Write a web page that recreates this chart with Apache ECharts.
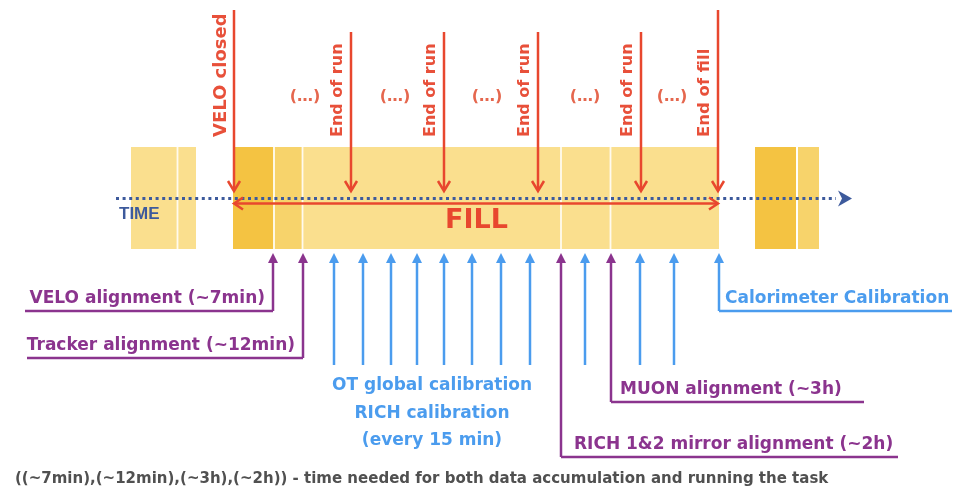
<!DOCTYPE html>
<html><head><meta charset="utf-8">
<script src="https://cdn.jsdelivr.net/npm/echarts@6/dist/echarts.min.js"></script>
<style>html,body{margin:0;padding:0;background:#fff}#c{width:954px;height:491px}</style>
</head><body><div id="c"></div>
<script>
// ---------------- data (diagram time/level units on a 0–954 × 0–491 plane) ----------------
const timelineRange = [116, 852];
const fillRange = [233, 719];
// [start, end, shadeIndex] 0 = dark, 1 = medium, 2 = light
const blockSegments = [
  [131, 196, 2],
  [233, 719, 2],
  [233, 273, 0],
  [275, 302, 1],
  [755, 796, 0],
  [798, 819, 1]
];
const blockDividers = [177.5, 274, 302.5, 561, 610.5];
const runEvents = ['VELO closed', 'End of run', 'End of run', 'End of run', 'End of run', 'End of fill'];
const runEventTimes = [234, 351, 444, 538, 641, 718];
const runEventStarts = [10, 32, 32, 32, 32, 10];
const gapLabel = '(…)';
const gapTimes = [305, 395, 487, 585, 672];
const calibTimes = [334, 363, 391, 417, 444, 472, 501, 530, 585, 640, 674];
const calibLabelLines = ['OT global calibration', 'RICH calibration', '(every 15 min)'];
const alignTasks = ['VELO alignment (~7min)', 'Tracker alignment (~12min)', 'RICH 1&2 mirror alignment (~2h)', 'MUON alignment (~3h)'];
const alignTimes = [273, 303, 561, 611];
const alignLevels = [311, 358, 457, 402];
const alignLineEnds = [25, 27, 898, 864];
const caloTask = 'Calorimeter Calibration';
const caloTime = 719;
const caloLevel = 311;
const caloLineEnd = 952;
const timeLabel = 'TIME';
const fillLabel = 'FILL';
const footnote = '((~7min),(~12min),(~3h),(~2h)) - time needed for both data accumulation and running the task';

// ---------------- style ----------------
const RED = '#E8472E', RED_T = '#E8503A', RED_GAP = '#E5674E', PURPLE = '#8B348E', BLUE = '#4B9CEE', NAVY = '#3D5A9C';
const SHADES = ['#F4C342', '#F7D36B', '#FADF8E'];
const FONT = '"DejaVu Sans", sans-serif';
const EVENT_FONT_SIZES = [18, 16, 16, 16, 16, 16.5];
const BLOCK_TOP = 147, BLOCK_BOTTOM = 249, TIME_Y = 198.5, FILL_Y = 203.5, EVENT_TIP = 191;
const TASK_TIP = 253, CALIB_BOTTOM = 365;

function txt(x, y, text, font, fill, align, valign, rot) {
  return {type: 'text', x: x, y: y, rotation: rot || 0,
    style: {text: text, font: font, fill: fill, textAlign: align, textVerticalAlign: valign, align: align, verticalAlign: valign}};
}
function upArrow(api, t, bottomLevel, color) {
  const tip = api.coord([t, TASK_TIP]);
  const bot = api.coord([t, bottomLevel]);
  return [
    {type: 'line', shape: {x1: bot[0], y1: bot[1], x2: tip[0], y2: tip[1] + 8}, style: {stroke: color, lineWidth: 2.5}},
    {type: 'polygon', shape: {points: [[tip[0], tip[1]], [tip[0] - 5, tip[1] + 10], [tip[0] + 5, tip[1] + 10]]}, style: {fill: color}}
  ];
}

const chart = echarts.init(document.getElementById('c'));
chart.setOption({
  animation: false,
  grid: {left: 0, right: 0, top: 0, bottom: 0},
  xAxis: {type: 'value', min: 0, max: 954, show: false},
  yAxis: {type: 'value', min: 0, max: 491, inverse: true, show: false},
  series: [
    { // blocks
      type: 'custom', coordinateSystem: 'cartesian2d', silent: true,
      data: blockSegments.map(s => [s[0], BLOCK_TOP, s[1], s[2]]),
      renderItem: (params, api) => {
        const s = blockSegments[params.dataIndex];
        const a = api.coord([s[0], BLOCK_TOP]), b = api.coord([s[1], BLOCK_BOTTOM]);
        return {type: 'rect', shape: {x: a[0], y: a[1], width: b[0] - a[0], height: b[1] - a[1]}, style: {fill: SHADES[s[2]]}};
      }
    },
    { // dividers
      type: 'custom', coordinateSystem: 'cartesian2d', silent: true,
      data: blockDividers.map(d => [d, BLOCK_TOP]),
      renderItem: (params, api) => {
        const a = api.coord([blockDividers[params.dataIndex], BLOCK_TOP]), b = api.coord([blockDividers[params.dataIndex], BLOCK_BOTTOM]);
        return {type: 'line', shape: {x1: a[0], y1: a[1], x2: b[0], y2: b[1]}, style: {stroke: 'rgba(255,255,255,0.85)', lineWidth: 1.8}};
      }
    },
    { // time line + FILL arrow
      type: 'custom', coordinateSystem: 'cartesian2d', silent: true,
      data: [[timelineRange[0], TIME_Y]],
      renderItem: (params, api) => {
        const a = api.coord([timelineRange[0], TIME_Y]), b = api.coord([timelineRange[1], TIME_Y]);
        const f0 = api.coord([fillRange[0], FILL_Y]), f1 = api.coord([fillRange[1], FILL_Y]);
        return {type: 'group', children: [
          {type: 'line', shape: {x1: a[0], y1: a[1], x2: b[0] - 16, y2: b[1]}, style: {stroke: NAVY, lineWidth: 3, lineDash: [3, 3.6]}},
          {type: 'polygon', shape: {points: [[b[0], b[1]], [b[0] - 14, b[1] - 8], [b[0] - 10, b[1]], [b[0] - 14, b[1] + 8]]}, style: {fill: NAVY}},
          {type: 'line', shape: {x1: f0[0] + 1, y1: f0[1], x2: f1[0] - 1, y2: f1[1]}, style: {stroke: RED, lineWidth: 2.5}},
          {type: 'polyline', shape: {points: [[f0[0] + 10, f0[1] - 6], [f0[0] + 1, f0[1]], [f0[0] + 10, f0[1] + 6]]}, style: {stroke: RED, lineWidth: 2.5, fill: 'none'}},
          {type: 'polyline', shape: {points: [[f1[0] - 10, f1[1] - 6], [f1[0] - 1, f1[1]], [f1[0] - 10, f1[1] + 6]]}, style: {stroke: RED, lineWidth: 2.5, fill: 'none'}},
          txt(a[0] + 3, a[1] + 16, timeLabel, 'bold 17px "Liberation Sans", Arial, sans-serif', NAVY, 'left', 'middle'),
          txt((f0[0] + f1[0]) / 2 + 0.5, f0[1] + 17, fillLabel, 'bold 27px ' + FONT, RED, 'center', 'middle')
        ]};
      }
    },
    { // run events (red arrows from the top)
      type: 'custom', coordinateSystem: 'cartesian2d', silent: true,
      data: runEventTimes.map((t, i) => [t, runEventStarts[i]]),
      renderItem: (params, api) => {
        const i = params.dataIndex, t = runEventTimes[i];
        const top = api.coord([t, runEventStarts[i]]), tip = api.coord([t, EVENT_TIP]);
        return {type: 'group', children: [
          {type: 'line', shape: {x1: top[0], y1: top[1], x2: tip[0], y2: tip[1] - 1}, style: {stroke: RED, lineWidth: 2.5}},
          {type: 'polyline', shape: {points: [[tip[0] - 6, tip[1] - 10], [tip[0], tip[1]], [tip[0] + 6, tip[1] - 10]]}, style: {stroke: RED, lineWidth: 2.5, fill: 'none'}},
          txt(tip[0] - 13, tip[1] - 54, runEvents[i], 'bold ' + EVENT_FONT_SIZES[i] + 'px ' + FONT, RED_T, 'left', 'middle', Math.PI / 2)
        ]};
      }
    },
    { // gaps (…)
      type: 'custom', coordinateSystem: 'cartesian2d', silent: true,
      data: gapTimes.map(t => [t, 97]),
      renderItem: (params, api) => {
        const p = api.coord([gapTimes[params.dataIndex], 97]);
        return txt(p[0], p[1], gapLabel, 'bold 16px ' + FONT, RED_GAP, 'center', 'middle');
      }
    },
    { // calibration arrows
      type: 'custom', coordinateSystem: 'cartesian2d', silent: true,
      data: calibTimes.map(t => [t, CALIB_BOTTOM]),
      renderItem: (params, api) => ({type: 'group', children: upArrow(api, calibTimes[params.dataIndex], CALIB_BOTTOM, BLUE)})
    },
    { // calibration label
      type: 'custom', coordinateSystem: 'cartesian2d', silent: true,
      data: calibLabelLines.map((l, i) => [432, 386 + i * 27.5]),
      renderItem: (params, api) => {
        const i = params.dataIndex, p = api.coord([432, 386 + i * 27.5]);
        return txt(p[0], p[1], calibLabelLines[i], 'bold 17px ' + FONT, BLUE, 'center', 'middle');
      }
    },
    { // alignment tasks (purple elbows)
      type: 'custom', coordinateSystem: 'cartesian2d', silent: true,
      data: alignTimes.map((t, i) => [t, alignLevels[i]]),
      renderItem: (params, api) => {
        const i = params.dataIndex, t = alignTimes[i];
        const c = api.coord([t, alignLevels[i]]), e = api.coord([alignLineEnds[i], alignLevels[i]]);
        const left = alignLineEnds[i] < t;
        const children = upArrow(api, t, alignLevels[i], PURPLE);
        children.push({type: 'line', shape: {x1: c[0], y1: c[1], x2: e[0], y2: e[1]}, style: {stroke: PURPLE, lineWidth: 2.5}});
        const offs = [-8, -8, 13, 9];
        children.push(txt(c[0] + offs[i], c[1] - 12.5, alignTasks[i], 'bold 17px ' + FONT, PURPLE, left ? 'right' : 'left', 'middle'));
        return {type: 'group', children: children};
      }
    },
    { // calorimeter
      type: 'custom', coordinateSystem: 'cartesian2d', silent: true,
      data: [[caloTime, caloLevel]],
      renderItem: (params, api) => {
        const c = api.coord([caloTime, caloLevel]), e = api.coord([caloLineEnd, caloLevel]);
        const children = upArrow(api, caloTime, caloLevel, BLUE);
        children.push({type: 'line', shape: {x1: c[0], y1: c[1], x2: e[0], y2: e[1]}, style: {stroke: BLUE, lineWidth: 2.5}});
        children.push(txt(c[0] + 6, c[1] - 12.5, caloTask, 'bold 17px ' + FONT, BLUE, 'left', 'middle'));
        return {type: 'group', children: children};
      }
    },
    { // footnote
      type: 'custom', coordinateSystem: 'cartesian2d', silent: true,
      data: [[15, 479]],
      renderItem: (params, api) => {
        const p = api.coord([15, 479]);
        return txt(p[0], p[1], footnote, 'bold 15px ' + FONT, '#505050', 'left', 'middle');
      }
    }
  ]
});
</script>
</body></html>
